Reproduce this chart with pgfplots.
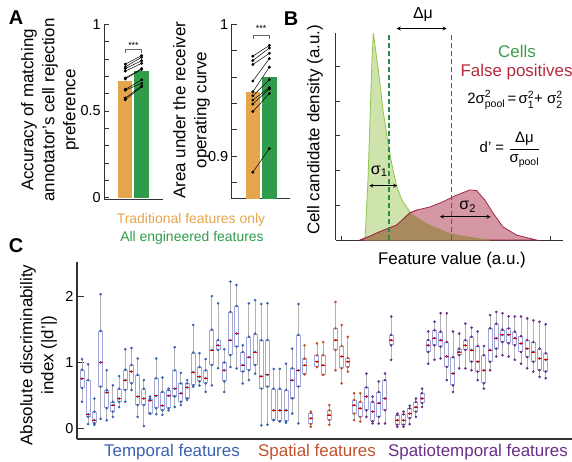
\documentclass[border=0pt]{standalone}
\usepackage{fontspec}
\setmainfont{Liberation Sans}
\usepackage{amsmath}
\usepackage{pgfplots}
\pgfplotsset{compat=1.18}
\usepackage{pgfplotstable}

\newcommand{\fs}[2]{\fontsize{#1}{#2}\selectfont}

\definecolor{aorange}{HTML}{E4A54D}
\definecolor{agreen}{HTML}{2F9B4B}
\definecolor{cblue}{HTML}{3A62AE}
\definecolor{corange}{HTML}{C1512B}
\definecolor{cpurple}{HTML}{6B2D87}
\definecolor{cbox}{HTML}{A3A8D6}
\definecolor{bgreenfill}{HTML}{CFE3AC}
\definecolor{bgreenline}{HTML}{92C350}
\definecolor{bredfill}{HTML}{D597A3}
\definecolor{bredline}{HTML}{A22A45}
\definecolor{bbrown}{HTML}{A98A5E}
\definecolor{bgreendash}{HTML}{2E8B45}
\definecolor{bpurpdash}{HTML}{A3307F}
\definecolor{tgreen}{HTML}{3E9B4C}
\definecolor{tred}{HTML}{B42B3E}

% panel C: per feature  lo, q1, median, q3, hi  of |d'|
\pgfplotstableread{
i lo q1 med q3 hi
1 0.40 0.61 0.75 0.89 1.05
2 0.06 0.17 0.21 0.73 0.97
3 0.05 0.07 0.12 0.25 0.45
4 0.14 0.63 1.00 1.48 2.04
5 0.12 0.30 0.54 0.58 0.88
6 0.17 0.25 0.35 0.40 0.65
7 0.32 0.40 0.45 0.60 0.79
8 0.40 0.58 0.73 0.89 1.20
9 0.58 0.68 0.86 0.96 1.22
10 0.17 0.35 0.48 0.81 1.06
11 0.03 0.35 0.45 0.60 0.73
12 0.22 0.22 0.42 0.45 0.48
13 0.21 0.30 0.49 0.76 1.06
14 0.20 0.27 0.34 0.55 0.77
15 0.27 0.30 0.49 0.58 0.60
16 0.32 0.48 0.60 0.88 1.23
17 0.35 0.40 0.53 0.68 0.84
18 0.43 0.45 0.62 0.68 0.73
19 0.63 0.65 0.85 1.15 1.57
20 0.65 0.71 0.78 0.93 1.14
21 0.55 0.68 0.76 0.88 1.05
22 0.65 0.96 1.19 1.50 2.01
23 0.91 1.19 1.26 1.34 1.90
24 0.55 0.71 0.88 1.00 1.20
25 0.93 1.11 1.34 1.77 2.23
26 0.91 1.24 1.44 1.86 2.18
27 0.68 0.86 0.96 1.16 1.26
28 0.73 0.88 1.08 1.39 1.90
29 0.83 0.96 1.16 1.44 1.95
30 0.04 0.60 0.79 1.34 1.89
31 0.05 0.63 0.81 1.34 1.90
32 0.12 0.12 0.27 0.60 0.90
33 0.10 0.10 0.27 0.60 0.90
34 0.08 0.10 0.27 0.58 0.98
35 0.22 0.45 0.73 0.91 1.21
36 0.07 0.63 0.88 1.42 1.89
}\tblue
\pgfplotstableread{
i lo q1 med q3 hi
37 0.82 0.82 0.96 1.06 1.26
38 0.02 0.06 0.15 0.23 0.25
39 0.93 0.93 1.01 1.11 1.29
40 0.81 0.81 0.96 1.11 1.31
41 0.05 0.12 0.20 0.27 0.35
42 0.88 1.19 1.34 1.52 1.92
43 0.68 0.91 1.09 1.25 1.57
44 0.86 0.93 1.01 1.07 1.39
45 0.12 0.22 0.35 0.43 0.53
46 0.10 0.17 0.30 0.40 0.53
}\torange
\pgfplotstableread{
i lo q1 med q3 hi
47 0.17 0.27 0.48 0.62 0.83
48 0.07 0.10 0.25 0.40 0.48
49 0.07 0.17 0.38 0.55 0.71
50 0.07 0.27 0.45 0.73 0.83
51 1.04 1.26 1.34 1.42 1.70
52 0.02 0.05 0.12 0.20 0.22
53 0.02 0.05 0.12 0.21 0.25
54 0.06 0.15 0.22 0.30 0.34
55 0.17 0.25 0.32 0.40 0.45
56 0.32 0.38 0.45 0.53 0.60
57 0.98 1.16 1.26 1.34 1.47
58 1.04 1.26 1.37 1.49 1.62
59 1.06 1.24 1.34 1.47 1.75
60 0.73 0.93 1.09 1.31 1.75
61 0.55 0.65 0.83 1.08 1.47
62 0.91 1.11 1.16 1.21 1.44
63 0.91 1.19 1.26 1.34 1.59
64 0.88 1.01 1.19 1.39 1.53
65 0.73 0.86 1.01 1.25 1.47
66 0.60 0.68 0.88 1.11 1.25
67 0.88 1.01 1.19 1.52 1.72
68 1.09 1.21 1.37 1.59 1.77
69 1.11 1.31 1.42 1.50 1.75
70 1.09 1.29 1.42 1.52 1.70
71 1.04 1.26 1.37 1.47 1.70
72 0.98 1.16 1.29 1.40 1.70
73 0.91 1.08 1.21 1.34 1.67
74 0.86 1.01 1.16 1.31 1.64
75 0.78 0.88 1.06 1.21 1.62
76 0.76 0.86 1.04 1.14 1.58
}\tpurple

% whiskers, box, dots, median for one group of features
\newcommand{\boxgroup}[2]{%
  \addplot[draw=none, mark=none, error bars/.cd, y dir=both, y explicit, error mark=none,
    error bar style={draw=black!30, line width=0.9bp}]
    table[x=i, y=med, y error plus expr={\thisrow{hi}-\thisrow{med}}, y error minus expr={\thisrow{med}-\thisrow{lo}}] {#1};
  \addplot[draw=none, mark=none, error bars/.cd, y dir=both, y explicit, error mark=none,
    error bar style={draw=cbox, line width=5bp}]
    table[x=i, y expr={(\thisrow{q1}+\thisrow{q3})/2}, y error expr={(\thisrow{q3}-\thisrow{q1})/2}] {#1};
  \addplot[draw=none, mark=none, error bars/.cd, y dir=both, y explicit, error mark=none,
    error bar style={draw=white, line width=3bp}]
    table[x=i, y expr={(\thisrow{q1}+\thisrow{q3})/2}, y error expr={max((\thisrow{q3}-\thisrow{q1})/2-0.016,0)}] {#1};
  \addplot[only marks, mark=*, mark size=1.1bp, #2] table[x=i, y=lo] {#1};
  \addplot[only marks, mark=*, mark size=1.1bp, #2] table[x=i, y=q1] {#1};
  \addplot[only marks, mark=*, mark size=1.1bp, #2] table[x=i, y=q3] {#1};
  \addplot[only marks, mark=*, mark size=1.1bp, #2] table[x=i, y=hi] {#1};
  \addplot[only marks, mark=*, mark size=1.1bp, #2] table[x=i, y=med] {#1};
  \addplot[only marks, mark=-, mark size=2bp, mark options={red!85!black, line width=0.8bp}] table[x=i, y=med] {#1};
}

\pgfplotsset{
  panel/.style={
    anchor=south west, scale only axis, axis lines*=left,
    tick align=inside, major tick length=5bp, minor tick length=5bp,
    axis line style={line width=0.8bp, black!80},
    every tick/.style={black!80, line width=0.6bp},
    tick label style={font=\fs{14.5}{16}},
    /pgf/number format/assume math mode=true,
  },
  pair/.style={black, line width=0.5bp, mark=*, mark size=1.2bp},
}

\begin{document}
\begin{tikzpicture}
\path[use as bounding box] (0,0) rectangle (572bp,-462bp);

% ---------- A, left
\begin{axis}[panel, at={(104.3bp,-199.3bp)}, width=58.7bp, height=175bp,
  xmin=-0.28, xmax=3.3, ymin=-0.009, ymax=1, xtick=\empty,
  ytick={0,0.5,1}, yticklabels={0,0.5,1},
  minor ytick={0.1,0.2,0.3,0.4,0.6,0.7,0.8,0.9}, clip=false]
\addplot[ybar, bar width=14bp, fill=aorange, draw=none] coordinates {(1,0.673)};
\addplot[ybar, bar width=14.5bp, fill=agreen, draw=none] coordinates {(2,0.731)};
\addplot[pair] coordinates {(1,0.770) (2,0.820)};
\addplot[pair] coordinates {(1,0.755) (2,0.810)};
\addplot[pair] coordinates {(1,0.745) (2,0.790)};
\addplot[pair] coordinates {(1,0.730) (2,0.775)};
\addplot[pair] coordinates {(1,0.690) (2,0.745)};
\addplot[pair] coordinates {(1,0.685) (2,0.740)};
\addplot[pair] coordinates {(1,0.625) (2,0.680)};
\addplot[pair] coordinates {(1,0.620) (2,0.660)};
\addplot[pair] coordinates {(1,0.575) (2,0.645)};
\addplot[pair] coordinates {(1,0.565) (2,0.640)};
\addplot[black!60, line width=0.5bp] coordinates {(1,0.835) (1,0.855) (2,0.855) (2,0.835)};
\node[font=\fs{9}{10}] at (axis cs:1.5,0.88) {***};
\end{axis}

% ---------- A, right
\begin{axis}[panel, at={(231.7bp,-198.7bp)}, width=58.3bp, height=174.4bp,
  xmin=-0.28, xmax=3.25, ymin=0.8677, ymax=1, xtick=\empty,
  ytick={0.9,1}, yticklabels={0.9,1},
  minor ytick={0.88,0.92,0.94,0.96,0.98}]
\addplot[ybar, bar width=14bp, fill=aorange, draw=none] coordinates {(1,0.949)};
\addplot[ybar, bar width=14.5bp, fill=agreen, draw=none] coordinates {(2,0.960)};
\addplot[pair] coordinates {(1,0.9758) (2,0.9840)};
\addplot[pair] coordinates {(1,0.9725) (2,0.9820)};
\addplot[pair] coordinates {(1,0.9695) (2,0.9780)};
\addplot[pair] coordinates {(1,0.9570) (2,0.9740)};
\addplot[pair] coordinates {(1,0.9488) (2,0.9675)};
\addplot[pair] coordinates {(1,0.9458) (2,0.9580)};
\addplot[pair] coordinates {(1,0.9425) (2,0.9520)};
\addplot[pair] coordinates {(1,0.9395) (2,0.9510)};
\addplot[pair] coordinates {(1,0.9338) (2,0.9475)};
\addplot[pair] coordinates {(1,0.8878) (2,0.9058)};
\addplot[black!60, line width=0.5bp] coordinates {(1,0.989) (1,0.992) (2,0.992) (2,0.989)};
\node[font=\fs{9}{10}] at (axis cs:1.5,0.9965) {***};
\end{axis}

% ---------- B
\begin{axis}[panel, at={(335.7bp,-240bp)}, width=227.3bp, height=207bp,
  xmin=-0.115, xmax=4.25, ymin=0, ymax=5.95,
  xtick={0,1,2,3,4}, ytick={1,2,3,4,5}, xticklabel=\empty, yticklabel=\empty,
  major tick length=4bp, clip=false]
\addplot[fill=bgreenfill, draw=bgreenline, line width=0.8bp] coordinates {
  (0.447,0) (0.505,1.72) (0.543,3.45) (0.582,5.17) (0.607,5.95) (0.697,4.97)
  (0.793,3.74) (0.889,2.79) (0.985,2.01) (1.061,1.52) (1.157,1.15) (1.311,0.80)
  (1.695,0.43) (2.079,0.20) (2.463,0.09) (2.846,0)} \closedcycle;
\addplot[fill=bredfill, draw=bredline, line width=0.8bp] coordinates {
  (0.351,0) (0.543,0.11) (0.735,0.24) (1.056,0.43) (1.311,0.78) (1.440,0.86)
  (1.695,0.95) (1.944,1.10) (2.207,1.29) (2.463,1.44) (2.591,1.42) (2.750,1.15)
  (2.904,0.78) (3.096,0.38) (3.359,0.14) (3.743,0)} \closedcycle;
\addplot[fill=bbrown, draw=none] coordinates {
  (0.447,0) (0.505,0.08) (0.543,0.11) (0.735,0.24) (1.056,0.43) (1.311,0.78)
  (1.695,0.43) (2.079,0.20) (2.463,0.09) (2.846,0)} \closedcycle;
\addplot[bredline, line width=0.8bp] coordinates {
  (0.351,0) (0.543,0.11) (0.735,0.24) (1.056,0.43) (1.311,0.78) (1.440,0.86)};
\addplot[bgreendash, line width=1.6bp, dash pattern=on 5bp off 3bp] coordinates {(0.908,0) (0.908,5.89)};
\addplot[bpurpdash, line width=1.6bp, dash pattern=on 5bp off 3bp] coordinates {(2.111,0) (2.111,5.89)};
\draw[<->, >=stealth, line width=0.8bp] (axis cs:1.056,6.08) -- (axis cs:2.015,6.08);
\draw[<->, >=stealth, line width=0.8bp] (axis cs:0.530,1.56) -- (axis cs:1.067,1.56);
\draw[<->, >=stealth, line width=0.8bp] (axis cs:1.887,0.67) -- (axis cs:2.860,0.67);
\node[font=\fs{16}{18}] at (axis cs:1.56,6.49) {Δμ};
\node[font=\fs{16}{18}] at (axis cs:0.72,1.97) {$\text{σ}_{\text{1}}$};
\node[font=\fs{16}{18}] at (axis cs:2.42,0.95) {$\text{σ}_{\text{2}}$};
\end{axis}

% ---------- C
\begin{axis}[panel, at={(77bp,-439bp)}, width=495bp, height=177bp,
  xmin=0.19, xmax=80.25, ymin=-0.167, ymax=2.53, xtick=\empty,
  ytick={0,1,2}, yticklabels={0,1,2}, major tick length=7bp,
  axis line style={line width=1.2bp, black!80}]
\boxgroup{\tblue}{cblue}
\boxgroup{\torange}{corange}
\boxgroup{\tpurple}{cpurple}
\end{axis}

% ---------- text
\node[font=\bfseries\fs{20}{22}] at (16bp,-18bp) {A};
\node[font=\bfseries\fs{20}{22}] at (291bp,-19bp) {B};
\node[font=\bfseries\fs{20}{22}] at (16bp,-246bp) {C};

\node[rotate=90, align=center, font=\fs{17}{21}] at (50bp,-110bp)
  {Accuracy of matching\\annotator's cell rejection\\preference};
\node[rotate=90, align=center, font=\fs{17}{21}] at (191.5bp,-110bp)
  {Area under the receiver\\operating curve};
\node[font=\fs{14}{16}, text=aorange] at (191bp,-220bp) {Traditional features only};
\node[font=\fs{14}{16}, text=agreen] at (192bp,-238bp) {All engineered features};

\node[rotate=90, font=\fs{17}{21}] at (315bp,-130bp) {Cell candidate density (a.u.)};
\node[font=\fs{17}{21}] at (452bp,-260bp) {Feature value (a.u.)};
\node[font=\fs{17}{21}, text=tgreen] at (517bp,-51bp) {Cells};
\node[font=\fs{17}{21}, text=tred, anchor=west] at (457bp,-72bp) {False positives};
\node[font=\fs{15}{18}] at (515bp,-100bp)
  {$\text{2σ}^{\text{2}}_{\text{pool}}\,\text{=}\,\text{σ}^{\text{2}}_{\text{1}}\text{+ }\text{σ}^{\text{2}}_{\text{2}}$};
\node[font=\fs{15}{18}] at (510bp,-150bp)
  {$\text{d' =}\ \dfrac{\text{Δμ}}{\text{σ}_{\text{pool}}}$};

\node[rotate=90, align=center, font=\fs{17}{21}] at (38.5bp,-355bp)
  {Absolute discriminability\\index (|d'|)};
\node[font=\fs{17}{21}, text=cblue] at (172bp,-452bp) {Temporal features};
\node[font=\fs{17}{21}, text=corange] at (317bp,-452bp) {Spatial features};
\node[font=\fs{17}{21}, text=cpurple] at (478bp,-452bp) {Spatiotemporal features};
\end{tikzpicture}
\end{document}
